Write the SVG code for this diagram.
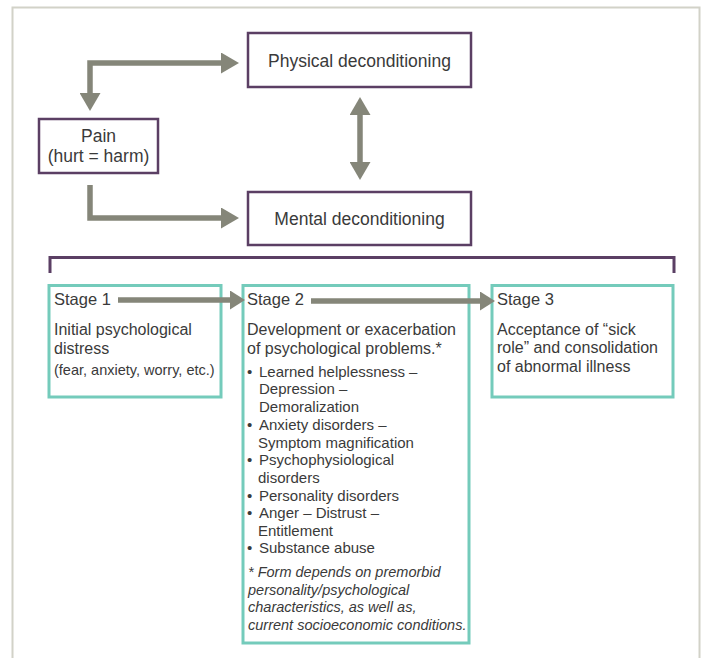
<svg xmlns="http://www.w3.org/2000/svg" width="703" height="658" viewBox="0 0 703 658">
<defs>
<style>
text{font-family:"Liberation Sans",Arial,sans-serif;fill:#3a3a3a}
.box{fill:#fff;stroke:#5b3f64;stroke-width:2.5}
.stage{fill:#fff;stroke:#74cbbb;stroke-width:3}
.lbl{font-size:17.5px;text-anchor:middle}
.h{font-size:16.5px}
.b{font-size:16px}
.s{font-size:14.5px}
.li{font-size:15px}
.it{font-size:14.5px;font-style:italic}
.arr{fill:none;stroke:#858679;stroke-width:5.5;stroke-linejoin:miter}
</style>
<marker id="ah" markerUnits="userSpaceOnUse" markerWidth="18" markerHeight="21" refX="0" refY="10.5" orient="auto-start-reverse">
<path d="M0,0 L18,10.5 L0,21 z" fill="#858679"/>
</marker>
<marker id="ah2" markerUnits="userSpaceOnUse" markerWidth="15" markerHeight="19" refX="0" refY="9.5" orient="auto-start-reverse">
<path d="M0,0 L15,9.5 L0,19 z" fill="#858679"/>
</marker>
</defs>
<rect x="12.5" y="7.5" width="687" height="700" fill="#fff" stroke="#d2d2c8" stroke-width="2"/>

<g id="physical">
<rect class="box" x="248" y="33" width="223" height="54"/>
<text class="lbl" x="359.5" y="66.5">Physical deconditioning</text>
</g>
<g id="pain">
<rect class="box" x="39" y="119" width="119" height="54"/>
<text class="lbl" x="98.5" y="142">Pain</text>
<text class="lbl" x="98.5" y="162">(hurt = harm)</text>
</g>
<g id="mental">
<rect class="box" x="248" y="192" width="223" height="53"/>
<text class="lbl" x="359.5" y="225">Mental deconditioning</text>
</g>

<g id="bracket">
<path d="M50,273 V257.5 H674 V273" fill="none" stroke="#5b3f64" stroke-width="3"/>
</g>

<g id="stage1">
<rect class="stage" x="49" y="285.5" width="172" height="111.5"/>
<text class="h" x="54" y="305">Stage 1</text>
<text class="b" x="54" y="335">Initial psychological</text>
<text class="b" x="54" y="354">distress</text>
<text class="s" x="54" y="375">(fear, anxiety, worry, etc.)</text>
</g>

<g id="stage2">
<rect class="stage" x="243" y="285.5" width="226" height="357.5"/>
<text class="h" x="247" y="305">Stage 2</text>
<text class="b" x="247" y="335">Development or exacerbation</text>
<text class="b" x="247" y="354">of psychological problems.*</text>
<g class="li">
<text class="li" x="247" y="377">•</text><text class="li" x="259" y="377">Learned helplessness –</text>
<text class="li" x="259" y="394">Depression –</text>
<text class="li" x="259" y="412">Demoralization</text>
<text class="li" x="247" y="430">•</text><text class="li" x="259" y="430">Anxiety disorders –</text>
<text class="li" x="258" y="448">Symptom magnification</text>
<text class="li" x="247" y="465">•</text><text class="li" x="259" y="465">Psychophysiological</text>
<text class="li" x="258" y="483">disorders</text>
<text class="li" x="247" y="501">•</text><text class="li" x="259" y="501">Personality disorders</text>
<text class="li" x="247" y="518">•</text><text class="li" x="259" y="518">Anger – Distrust –</text>
<text class="li" x="258" y="536">Entitlement</text>
<text class="li" x="247" y="553">•</text><text class="li" x="259" y="553">Substance abuse</text>
</g>
<text class="it" x="248" y="577">* Form depends on premorbid</text>
<text class="it" x="248" y="595">personality/psychological</text>
<text class="it" x="248" y="612">characteristics, as well as,</text>
<text class="it" x="248" y="630">current socioeconomic conditions.</text>
</g>

<g id="stage3">
<rect class="stage" x="492" y="285.5" width="181" height="111.5"/>
<text class="h" x="497" y="305">Stage 3</text>
<text class="b" x="497" y="335">Acceptance of “sick</text>
<text class="b" x="497" y="353">role” and consolidation</text>
<text class="b" x="497" y="372">of abnormal illness</text>
</g>

<g id="connectors">
<path class="arr" d="M90,93 V63 H221" marker-start="url(#ah)" marker-end="url(#ah)"/>
<path class="arr" d="M90,185 V218 H221" marker-end="url(#ah)"/>
<path class="arr" d="M360,115 V162" marker-start="url(#ah)" marker-end="url(#ah)"/>
<path class="arr" d="M118,300 H230" marker-end="url(#ah2)"/>
<path class="arr" d="M311,301 H480" marker-end="url(#ah2)"/>
</g>
</svg>
